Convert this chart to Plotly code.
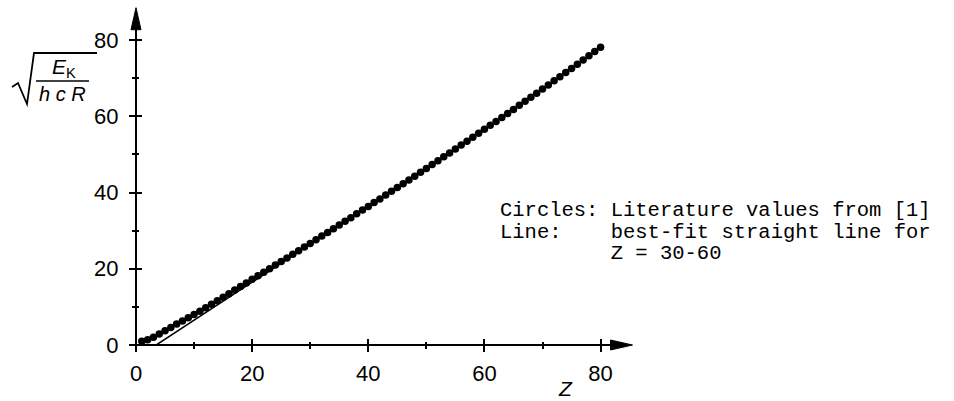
import numpy as np
import plotly.graph_objects as go

# Atomic number Z
Z = list(range(1, 81))
# sqrt(E_K / hcR) literature values (read / estimated)
root_EK = [
    1.00, 1.35, 2.01, 2.86, 3.72, 4.57, 5.49, 6.32, 7.16, 8.00,
    8.87, 9.79, 10.71, 11.63, 12.56, 13.48, 14.40, 15.35, 16.29, 17.23,
    18.17, 19.11, 20.04, 20.98, 21.92, 22.86, 23.80, 24.75, 25.69, 26.65,
    27.60, 28.57, 29.53, 30.50, 31.47, 32.45, 33.42, 34.41, 35.39, 36.37,
    37.36, 38.34, 39.33, 40.32, 41.31, 42.31, 43.31, 44.31, 45.32, 46.33,
    47.34, 48.36, 49.38, 50.40, 51.43, 52.46, 53.49, 54.52, 55.56, 56.59,
    57.63, 58.67, 59.72, 60.77, 61.82, 62.88, 63.94, 65.00, 66.07, 67.14,
    68.22, 69.31, 70.39, 71.48, 72.58, 73.69, 74.79, 75.91, 77.03, 78.15,
]
fit_range = [30, 60]
major_ticks = [0, 20, 40, 60, 80]
minor_ticks = [10, 30, 50, 70]
note_lines = [
    "Circles: Literature values from [1]",
    "Line:    best-fit straight line for",
    "         Z = 30-60",
]

# best-fit straight line for Z = 30-60
za = np.array(Z, dtype=float)
ya = np.array(root_EK)
sel = (za >= fit_range[0]) & (za <= fit_range[1])
slope, icpt = np.polyfit(za[sel], ya[sel], 1)
z0 = -icpt / slope
fit_x = [z0, fit_range[1]]
fit_y = [slope * z0 + icpt, slope * fit_range[1] + icpt]

W, H = 954, 401
ML, MT, PW, PH = 136, 2, 813, 343
XR = [0, 140]
YR = [0, 90]
X_END, Y_END = 85.5, 88.5


def px(x):
    return (x - ML) / PW


def py(y):
    return (MT + PH - y) / PH


def dx(v):  # data x -> pixel x
    return ML + (v - XR[0]) / (XR[1] - XR[0]) * PW


def dy(v):  # data y -> pixel y
    return MT + PH - (v - YR[0]) / (YR[1] - YR[0]) * PH


fig = go.Figure()
fig.add_trace(go.Scatter(x=fit_x, y=fit_y, mode="lines",
                         line=dict(color="black", width=1.5),
                         showlegend=False, hoverinfo="skip"))
fig.add_trace(go.Scatter(x=Z, y=root_EK, mode="markers",
                         marker=dict(color="black", size=7.5),
                         cliponaxis=False, showlegend=False))
fig.add_trace(go.Scatter(x=[None], y=[None], xaxis="x2", yaxis="y2",
                         mode="markers", showlegend=False, hoverinfo="skip"))

tickfont = dict(family="Liberation Sans", size=22, color="black")
common = dict(showgrid=False, zeroline=False, showline=False,
              tickmode="array", tickcolor="black", tickwidth=1.8)
minor_out = dict(tickmode="array", tickvals=minor_ticks, ticks="outside",
                 ticklen=3, tickcolor="black", tickwidth=1.8)
minor_in = dict(tickmode="array", tickvals=minor_ticks, ticks="inside",
                ticklen=3, tickcolor="black", tickwidth=1.8)

fig.update_layout(
    width=W, height=H,
    margin=dict(l=ML, r=W - ML - PW, t=MT, b=H - MT - PH),
    paper_bgcolor="white", plot_bgcolor="white",
    font=dict(family="Liberation Sans", color="black"),
    xaxis=dict(range=XR, tickvals=major_ticks, ticks="outside", ticklen=6,
               tickfont=tickfont, ticklabelstandoff=3, minor=minor_out, **common),
    yaxis=dict(range=YR, tickvals=major_ticks, ticks="outside", ticklen=6,
               tickfont=tickfont, ticklabelstandoff=6, minor=minor_out, **common),
    xaxis2=dict(range=XR, overlaying="x", anchor="y2", side="bottom",
                tickvals=major_ticks, ticks="inside", ticklen=6, showticklabels=False,
                minor=minor_in, **common),
    yaxis2=dict(range=YR, overlaying="y", anchor="x2", side="left",
                tickvals=major_ticks, ticks="inside", ticklen=6, showticklabels=False,
                minor=minor_in, **common),
)

# axis lines with arrowheads
ax_line = dict(color="black", width=2)
fig.add_shape(type="line", xref="paper", yref="paper",
              x0=px(dx(0)), y0=py(dy(0) + 4), x1=px(dx(0)), y1=py(dy(Y_END) + 14),
              line=ax_line)
fig.add_shape(type="line", xref="paper", yref="paper",
              x0=px(dx(0)), y0=py(dy(0)), x1=px(dx(X_END) - 14), y1=py(dy(0)),
              line=ax_line)
tx, ty = dx(0), dy(Y_END)
fig.add_shape(type="path", xref="paper", yref="paper",
              path=f"M {px(tx):.5f},{py(ty):.5f} L {px(tx - 5):.5f},{py(ty + 22):.5f} "
                   f"L {px(tx + 5):.5f},{py(ty + 22):.5f} Z",
              fillcolor="black", line=dict(color="black", width=1))
tx, ty = dx(X_END), dy(0)
fig.add_shape(type="path", xref="paper", yref="paper",
              path=f"M {px(tx):.5f},{py(ty):.5f} L {px(tx - 22):.5f},{py(ty - 5):.5f} "
                   f"L {px(tx - 22):.5f},{py(ty + 5):.5f} Z",
              fillcolor="black", line=dict(color="black", width=1))

# axis title Z
fig.add_annotation(x=74.0, y=py(388), xref="x", yref="paper", text="<i>Z</i>",
                   showarrow=False, font=dict(family="Liberation Sans", size=21, color="black"),
                   xanchor="center", yanchor="middle")

# y-axis title: sqrt(E_K / (h c R))
rad = [(12, 87), (18, 83), (27, 104), (34, 53), (97, 53)]
path = "M " + " L ".join(f"{px(a):.5f},{py(b):.5f}" for a, b in rad)
fig.add_shape(type="path", path=path, xref="paper", yref="paper",
              line=dict(color="black", width=1.8))
fig.add_shape(type="line", x0=px(36), x1=px(89), y0=py(81), y1=py(81),
              xref="paper", yref="paper", line=dict(color="black", width=1.4))
fig.add_annotation(x=px(64), y=py(68), xref="paper", yref="paper",
                   text="<i>E</i><sub>K</sub>", showarrow=False,
                   font=dict(family="Liberation Sans", size=21, color="black"),
                   xanchor="center", yanchor="middle")
fig.add_annotation(x=px(62), y=py(94), xref="paper", yref="paper",
                   text="<i>h c R</i>", showarrow=False,
                   font=dict(family="Liberation Sans", size=20, color="black"),
                   xanchor="center", yanchor="middle")

# note text
note_y = [210, 232, 254]
for line, yy in zip(note_lines, note_y):
    fig.add_annotation(x=px(498), y=py(yy), xref="paper", yref="paper",
                       text=line.replace(" ", "\u00a0"), showarrow=False,
                       font=dict(family="Liberation Mono", size=20.5, color="black"),
                       xanchor="left", yanchor="middle")

fig.write_html("out.html", config={"displayModeBar": False},
               post_script="document.body.style.margin='0';")
